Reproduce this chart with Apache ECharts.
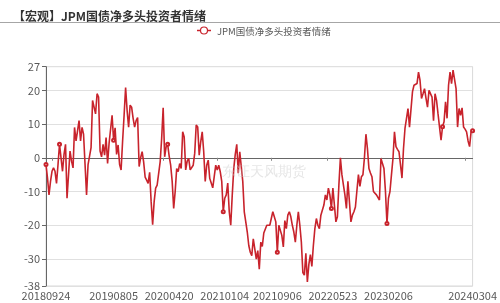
<!DOCTYPE html>
<html><head><meta charset="utf-8">
<script src="https://cdn.jsdelivr.net/npm/echarts@6/dist/echarts.min.js"></script>
<style>html,body{margin:0;padding:0;background:#fff}#c{width:500px;height:303px}</style>
</head><body><div id="c"></div>
<script>
var titleText = '【宏观】JPM国债净多头投资者情绪';
var seriesName = 'JPM国债净多头投资者情绪';
var startDate = '20180924';
var weekCount = 285;
var tickLabels = ['20180924','20190805','20200420','20210104','20210906','20220523','20230206','20240304'];
var values = [
-2,-6,-11,-7,-4,-3,-4,-7.6,-2,4,
0,-4,1,4,-12,-5,2,-1,-3,9,
5,8,11,5,9,7,-2,-11,-2,-1.7,
3,17,15,13,19,18,2,0.3,4,0.8,
6,-1.7,4.3,4.5,12.6,5.2,8.9,1,3.8,-2,
-3.6,5,12.6,20.8,14,9.1,15.6,15,11.7,9.1,
11,11.9,-2.6,0,1.8,-1.2,-5.7,-6.6,-7.6,-4.3,
-13,-19.8,-13,-9,-8.1,-7.8,-1.2,5.7,14.8,0.3,
3.3,4,0.5,-2.2,-7,-15,-10,-3.2,-4.1,-1.7,
-3.2,7.7,6.2,-3.6,-1,-0.2,-3.6,-4.1,-2.2,1.3,
9.7,9.1,0.8,4.7,7.7,1.8,-7,-2.2,-0.7,-6.1,
-7.5,-8.9,-5.6,-2.2,-3.6,-2.2,-4.1,-7,-16,-12,
-11,-7.5,-16,-20,-11,-3.2,1,4,-4.6,1.8,
1.8,-7,-16,-19,-22,-26,-28,-29,-24,-27,
-30,-27.5,-33,-25,-26.3,-22.3,-22.8,-20,-20,-20,
-20,-16,-17.5,-19,-28,-20,-20.5,-23,-26.4,-18.6,
-21,-17,-16,-17.5,-20,-22,-25,-20,-16,-20,
-25,-34,-34.8,-28.3,-36.8,-31.6,-28.7,-32.2,-26,-21,
-18,-20,-21,-17,-17.5,-14,-11,-12.5,-9,-11,
-15,-9,-14,-19,-17.5,-8,0,-5,-8,-11,
-15,-7,-13,-19,-17,-16,-14.6,-9.7,-5,-8.5,
-5.6,-5,0,7,2.7,-3.2,-4.5,-5.6,-10,-10,
-11,-11.5,-12.5,-0.2,-1.7,-3.2,-10,-19.5,-12,-10,
-5,-0.2,7.7,3.3,2.5,1.8,-2,-6,2.7,8.7,
9.1,14.6,9.1,9.1,19.6,21.5,22,22,25.4,23,
17.6,19,20.5,17.6,15,20,20,18,11,19,
17,13,9.1,5.2,9.2,10.7,16.6,11.7,21.5,25.4,
22,26,26,20.5,9.1,14.6,12.6,14.8,9.1,8.5,
7.7,5,3.3,7.7,8
];
var markerIdx = [0,9,45,81,118,154,190,227,264,284];
var tickIdx = [4,41,78,114,150,187,223,279];

// weekly category dates
var categories = [];
(function(){
  var d = new Date(Date.UTC(+startDate.slice(0,4), +startDate.slice(4,6)-1, +startDate.slice(6,8)));
  for (var i=0;i<weekCount;i++){
    var t = new Date(d.getTime() + i*7*86400000);
    var s = t.getUTCFullYear() + ('0'+(t.getUTCMonth()+1)).slice(-2) + ('0'+t.getUTCDate()).slice(-2);
    categories.push(s);
  }
})();

var lineColor = '#c8232c';
var chart = echarts.init(document.getElementById('c'), null, {renderer:'canvas'});
var font = '"Microsoft YaHei","Noto Sans CJK SC",sans-serif';
chart.setOption({
  animation:false,
  backgroundColor:'#fff',
  title:{text:titleText,left:8,top:5,textStyle:{fontSize:12,fontWeight:'bold',color:'#333',fontFamily:font}},
  graphic:[
    {type:'line',shape:{x1:0,y1:22.5,x2:500,y2:22.5},style:{stroke:'#a6a6a6',lineWidth:1}},
    {type:'text',left:222,top:165,style:{text:'东证天风期货',fontSize:14,fill:'rgba(200,200,200,0.45)',font:'14px '+font},z:100},
    {type:'line',shape:{x1:197,y1:30.5,x2:211,y2:30.5},style:{stroke:lineColor,lineWidth:1.5},z:100},
    {type:'circle',shape:{cx:204,cy:30.5,r:3.5},style:{fill:'#fff',stroke:lineColor,lineWidth:1.2},z:101}
  ],
  legend:{top:21.5,left:189,itemWidth:15,itemHeight:9,itemGap:10,
    itemStyle:{opacity:0},lineStyle:{opacity:0},
    textStyle:{fontSize:9.5,color:'#595959',fontFamily:font,padding:[0,0,0,2]},
    data:[{name:seriesName}]},
  grid:{left:46,right:27,top:66.7,bottom:17,show:true,borderColor:'#d9d9d9',borderWidth:1},
  xAxis:[
    {type:'category',data:categories,boundaryGap:false,
     axisLine:{onZero:true,lineStyle:{color:'#666',width:1}},
     axisTick:{show:true,length:3,interval:function(i){return tickIdx.indexOf(i)>=0;},lineStyle:{color:'#888'}},
     axisLabel:{show:false},splitLine:{show:false}},
    {type:'category',data:categories,boundaryGap:false,position:'bottom',
     axisLine:{show:false,onZero:false},axisTick:{show:false},splitLine:{show:false},
     axisLabel:{show:true,margin:4,fontSize:11,color:'#595959',fontFamily:font,
       interval:function(i,v){return tickLabels.indexOf(v)>=0;}}}
  ],
  yAxis:{type:'value',min:-38,max:27,
    axisLine:{show:true,lineStyle:{color:'#666'}},
    axisTick:{show:true,length:4,lineStyle:{color:'#666'}},
    axisLabel:{fontSize:11,color:'#595959',margin:6,fontFamily:font},
    splitLine:{show:true,lineStyle:{color:'#e0e0e0'}}},
  series:[{name:seriesName,type:'line',data:values,xAxisIndex:0,
    symbol:'emptyCircle',showAllSymbol:true,
    symbolSize:function(v,p){return (p && markerIdx.indexOf(p.dataIndex)>=0)?3:0;},
    itemStyle:{color:lineColor,borderWidth:0.8},
    lineStyle:{color:lineColor,width:1.6}}]
});
</script></body></html>
